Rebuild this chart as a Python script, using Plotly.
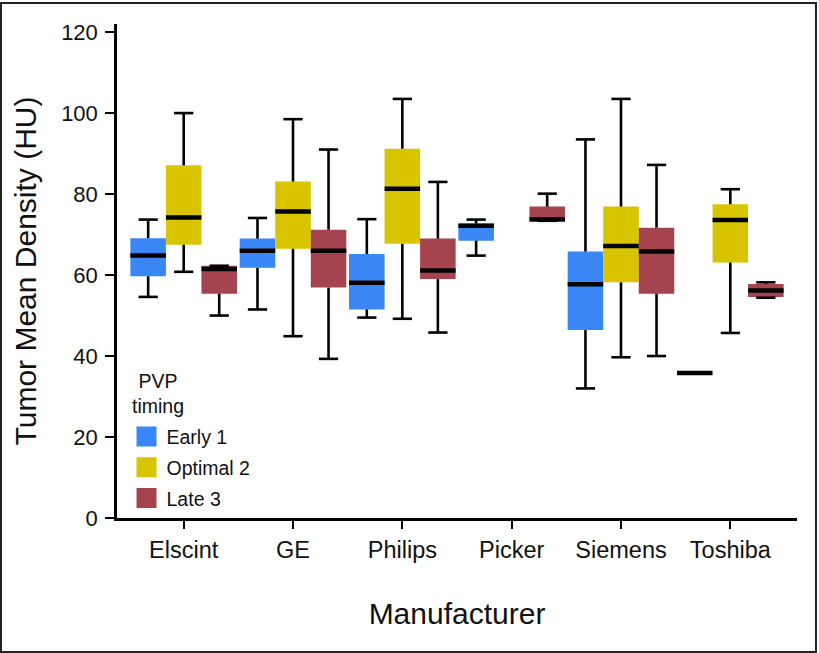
import plotly.graph_objects as go

manufacturers = ["Elscint", "GE", "Philips", "Picker", "Siemens", "Toshiba"]
series_names = ["Early 1", "Optimal 2", "Late 3"]
series_colors = ["#3a86f5", "#d9c400", "#a5444f"]

# per series: lower whisker, Q1, median, Q3, upper whisker (one value per manufacturer)
early_low = [54.6, 51.5, 49.5, 64.8, 32.0, 35.8]
early_q1 = [59.7, 61.8, 51.5, 68.5, 46.4, 35.8]
early_med = [64.8, 66.0, 58.1, 72.2, 57.7, 35.8]
early_q3 = [69.1, 69.0, 65.2, 72.7, 65.8, 35.8]
early_up = [73.7, 74.1, 73.8, 73.7, 93.5, 35.8]

optimal_low = [60.8, 44.9, 49.2, None, 39.7, 45.7]
optimal_q1 = [67.5, 66.5, 67.7, None, 58.2, 63.1]
optimal_med = [74.2, 75.7, 81.3, None, 67.2, 73.6]
optimal_q3 = [87.1, 83.1, 91.2, None, 76.9, 77.5]
optimal_up = [100.0, 98.5, 103.5, None, 103.5, 81.2]

late_low = [50.0, 39.3, 45.8, 73.4, 40.0, 54.4]
late_q1 = [55.4, 56.9, 59.0, 73.4, 55.4, 54.6]
late_med = [61.5, 66.0, 61.1, 73.7, 65.8, 56.2]
late_q3 = [62.3, 71.2, 69.0, 76.9, 71.7, 57.8]
late_up = [62.3, 91.0, 83.0, 80.1, 87.2, 58.2]

y_ticks = [0, 20, 40, 60, 80, 100, 120]

stats = [
    (early_low, early_q1, early_med, early_q3, early_up),
    (optimal_low, optimal_q1, optimal_med, optimal_q3, optimal_up),
    (late_low, late_q1, late_med, late_q3, late_up),
]

FONT = "Liberation Sans, Arial, sans-serif"
BW = 0.325          # box width in category units
CAP = 0.088         # half cap width
OFFSETS = [-BW, 0.0, BW]

fig = go.Figure()

bar_traces, whisk_traces, med_traces = [], [], []
for s, (lo, q1, med, q3, up) in enumerate(stats):
    xs, bases, heights = [], [], []
    wx, wy, mx, my = [], [], [], []
    for i in range(len(manufacturers)):
        if med[i] is None:
            continue
        x = i + OFFSETS[s]
        xs.append(x)
        bases.append(q1[i])
        heights.append(q3[i] - q1[i])
        wx += [x, x, None, x, x, None, x - CAP, x + CAP, None, x - CAP, x + CAP, None]
        wy += [q3[i], up[i], None, q1[i], lo[i], None, up[i], up[i], None, lo[i], lo[i], None]
        mx += [x - BW / 2, x + BW / 2, None]
        my += [med[i], med[i], None]
    bar_traces.append(go.Bar(x=xs, base=bases, y=heights, width=BW,
                             marker=dict(color=series_colors[s], line=dict(width=0)),
                             showlegend=False, hoverinfo="skip"))
    whisk_traces.append(go.Scatter(x=wx, y=wy, mode="lines",
                                   line=dict(color="black", width=2.6),
                                   showlegend=False, hoverinfo="skip"))
    med_traces.append(go.Scatter(x=mx, y=my, mode="lines",
                                 line=dict(color="black", width=4.5),
                                 showlegend=False, hoverinfo="skip"))

for t in bar_traces + whisk_traces + med_traces:
    fig.add_trace(t)

for s, name in enumerate(series_names):
    fig.add_trace(go.Scatter(x=[None], y=[None], mode="markers", name=name,
                             legendgroup=name,
                             marker=dict(symbol="square", size=16, color=series_colors[s],
                                         line=dict(color=series_colors[s], width=4))))

fig.update_layout(
    width=819, height=653,
    margin=dict(l=117, r=22, t=24, b=135),
    paper_bgcolor="white", plot_bgcolor="white",
    barmode="overlay",
    font=dict(family=FONT, color="#111111"),
    showlegend=True,
    legend=dict(
        x=0.014, y=0.204, xanchor="left", yanchor="top",
        bgcolor="rgba(0,0,0,0)",
        font=dict(size=19.5, family=FONT),
        itemsizing="trace",
        tracegroupgap=2.5,
    ),
    annotations=[dict(text="PVP<br>timing", xref="paper", yref="paper",
                      x=0.0603, y=0.252, xanchor="center", yanchor="middle",
                      align="center", showarrow=False,
                      font=dict(size=19.5, family=FONT, color="#111111"))],
    xaxis=dict(
        range=[-0.61, 5.61],
        tickmode="array", tickvals=list(range(len(manufacturers))), ticktext=manufacturers,
        showgrid=False, zeroline=False,
        showline=True, linecolor="black", linewidth=2.5,
        ticks="outside", ticklen=8, tickwidth=2, tickcolor="black",
        tickfont=dict(size=23.5, family=FONT),
        ticklabelstandoff=1,
        title=dict(text="Manufacturer", font=dict(size=30, family=FONT), standoff=42),
    ),
    yaxis=dict(
        range=[0, 122],
        tickmode="array", tickvals=y_ticks,
        showgrid=False, zeroline=False,
        showline=True, linecolor="black", linewidth=2.5,
        ticks="outside", ticklen=9, tickwidth=2, tickcolor="black",
        tickfont=dict(size=22, family=FONT),
        ticklabelstandoff=3,
        title=dict(text="Tumor Mean Density (HU)", font=dict(size=30, family=FONT), standoff=16),
    ),
    shapes=[dict(type="rect", xref="paper", yref="paper",
                 x0=-0.1706, x1=1.0279, y0=-0.2713, y1=1.0425,
                 line=dict(color="#222222", width=2), fillcolor="rgba(0,0,0,0)", layer="above")],
)

fig.write_html("out.html", config={"displayModeBar": False},
               post_script="document.body.style.margin='0';")
